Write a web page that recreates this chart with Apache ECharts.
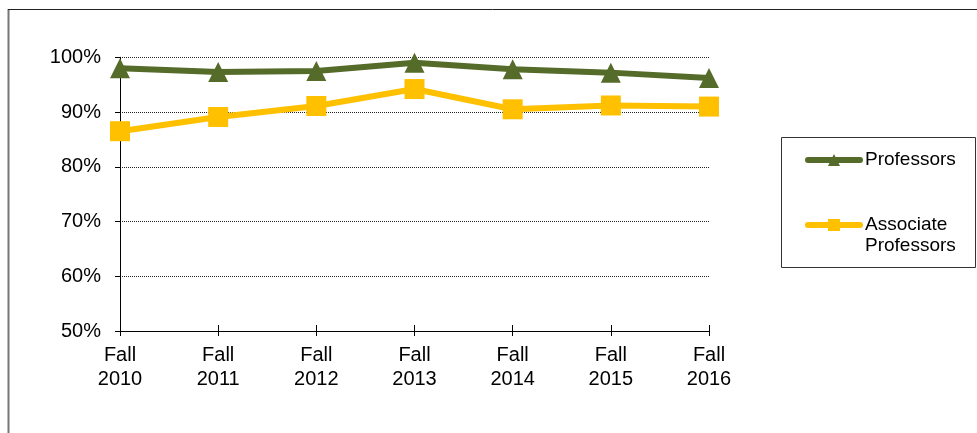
<!DOCTYPE html>
<html>
<head>
<meta charset="utf-8">
<script src="https://cdn.jsdelivr.net/npm/echarts@6/dist/echarts.min.js"></script>
<style>
html,body{margin:0;padding:0;background:#fff;}
#chart{width:977px;height:433px;}
</style>
</head>
<body>
<div id="chart"></div>
<script>
var categories = ['Fall\n2010', 'Fall\n2011', 'Fall\n2012', 'Fall\n2013', 'Fall\n2014', 'Fall\n2015', 'Fall\n2016'];
var professors = [98.0, 97.3, 97.5, 99.0, 97.8, 97.2, 96.2];
var associateProfessors = [86.5, 89.1, 91.1, 94.2, 90.5, 91.2, 91.0];
var seriesNames = ['Professors', 'Associate Professors'];
var legendLabels = {'Professors': 'Professors', 'Associate Professors': ' \nAssociate\nProfessors'};

var FONT = 'Liberation Sans, Arial, sans-serif';
var chart = echarts.init(document.getElementById('chart'));
chart.setOption({
  animation: false,
  backgroundColor: '#fff',
  grid: { left: 120, right: 268, top: 57.3, bottom: 102, containLabel: false },
  xAxis: [{
    type: 'category',
    data: categories,
    boundaryGap: false,
    axisLine: { lineStyle: { color: '#000', width: 1 } },
    axisTick: { show: true, length: 5, lineStyle: { color: '#000' } },
    axisLabel: { color: '#000', fontFamily: FONT, fontSize: 20, lineHeight: 24, margin: 12 },
    splitLine: { show: false }
  }, {
    type: 'category',
    data: categories,
    boundaryGap: false,
    position: 'bottom',
    axisLine: { show: false },
    axisTick: { show: true, inside: true, length: 6, lineStyle: { color: '#000' } },
    axisLabel: { show: false },
    splitLine: { show: false }
  }],
  yAxis: {
    type: 'value',
    min: 50, max: 100, interval: 10,
    axisLine: { show: true, lineStyle: { color: '#000', width: 1 } },
    axisTick: { show: true, length: 5, lineStyle: { color: '#000' } },
    axisLabel: { color: '#000', fontFamily: FONT, fontSize: 20, margin: 19, formatter: '{value}%' },
    splitLine: { show: true, lineStyle: { color: '#222', type: 'dotted', width: 1 } }
  },
  legend: {
    orient: 'vertical',
    left: 805, top: 149.5,
    itemWidth: 52, itemHeight: 15,
    itemGap: 23,
    padding: 0,
    lineStyle: { width: 6, cap: 'round' },
    textStyle: { color: '#000', fontFamily: FONT, fontSize: 19, lineHeight: 21 },
    formatter: function (n) { return legendLabels[n]; },
    data: seriesNames
  },
  graphic: [
    { type: 'line', shape: { x1: 8.5, y1: 9, x2: 8.5, y2: 433 }, style: { stroke: '#777', lineWidth: 2 } },
    { type: 'line', shape: { x1: 8, y1: 9.5, x2: 977, y2: 9.5 }, style: { stroke: '#222', lineWidth: 1 } },
    { type: 'rect', shape: { x: 781.5, y: 137.5, width: 194, height: 130 }, style: { fill: 'none', stroke: '#333', lineWidth: 1 }, z: -1 }
  ],
  series: [{
    name: seriesNames[0],
    type: 'line',
    data: professors,
    symbol: 'triangle',
    symbolSize: 20,
    lineStyle: { color: '#556B2A', width: 6, cap: 'round' },
    itemStyle: { color: '#556B2A' },
    z: 3
  }, {
    name: seriesNames[1],
    type: 'line',
    data: associateProfessors,
    symbol: 'rect',
    symbolSize: 20,
    lineStyle: { color: '#FFC000', width: 6, cap: 'round' },
    itemStyle: { color: '#FFC000' },
    z: 2
  }]
});
</script>
</body>
</html>
